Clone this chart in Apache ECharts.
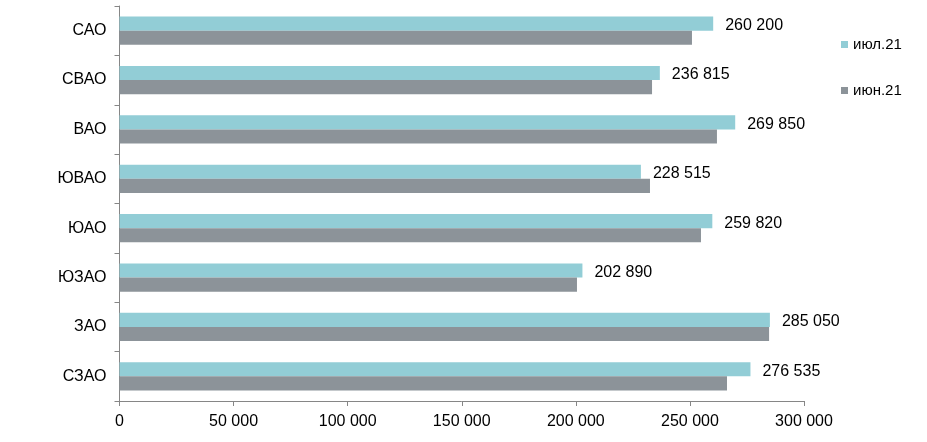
<!DOCTYPE html>
<html>
<head>
<meta charset="utf-8">
<script src="https://cdn.jsdelivr.net/npm/echarts@6/dist/echarts.min.js"></script>
<style>html,body{margin:0;padding:0;background:#fff}#c{width:927px;height:442px}</style>
</head>
<body>
<div id="c"></div>
<script>
const categories = ['САО', 'СВАО', 'ВАО', 'ЮВАО', 'ЮАО', 'ЮЗАО', 'ЗАО', 'СЗАО'];
const seriesNames = ['июл.21', 'июн.21'];
const julValues = [260200, 236815, 269850, 228515, 259820, 202890, 285050, 276535];
const junValues = [250900, 233400, 261850, 232500, 254850, 200500, 284700, 266250];
const xTicks = { min: 0, max: 300000, interval: 50000 };

function fmt(v) {
  return String(Math.round(v)).replace(/\B(?=(\d{3})+(?!\d))/g, ' ');
}
const FONT = '"Liberation Sans", Arial, sans-serif';
const chart = echarts.init(document.getElementById('c'), null, { renderer: 'canvas' });
chart.setOption({
  animation: false,
  backgroundColor: '#ffffff',
  grid: { left: 119.5, right: 123, top: 6, bottom: 41, containLabel: false },
  legend: {
    orient: 'vertical',
    left: 836,
    top: 32,
    itemWidth: 7,
    itemHeight: 7,
    itemGap: 31,
    icon: 'rect',
    textStyle: { fontFamily: FONT, fontSize: 15, color: '#000' },
    data: seriesNames
  },
  xAxis: {
    type: 'value',
    min: xTicks.min,
    max: xTicks.max,
    interval: xTicks.interval,
    axisLine: { show: true, lineStyle: { color: '#868686', width: 1 } },
    axisTick: { show: true, length: 5, lineStyle: { color: '#868686' } },
    splitLine: { show: false },
    axisLabel: { margin: 13, fontFamily: FONT, fontSize: 16, color: '#000', formatter: fmt }
  },
  yAxis: {
    type: 'category',
    inverse: true,
    data: categories,
    axisLine: { show: true, lineStyle: { color: '#868686', width: 1 } },
    axisTick: { show: true, length: 5, lineStyle: { color: '#868686' } },
    axisLabel: { margin: 13, fontFamily: FONT, fontSize: 16, color: '#000' }
  },
  series: [
    {
      name: seriesNames[0],
      type: 'bar',
      data: julValues,
      barGap: '0%',
      barCategoryGap: '43%',
      itemStyle: { color: '#92CDD6' },
      label: {
        show: true, position: 'right', distance: 12, offset: [0, 2],
        fontFamily: FONT, fontSize: 16, color: '#000',
        formatter: p => fmt(p.value)
      }
    },
    {
      name: seriesNames[1],
      type: 'bar',
      data: junValues,
      barGap: '0%',
      barCategoryGap: '43%',
      itemStyle: { color: '#8C9399' }
    }
  ]
});
</script>
</body>
</html>
